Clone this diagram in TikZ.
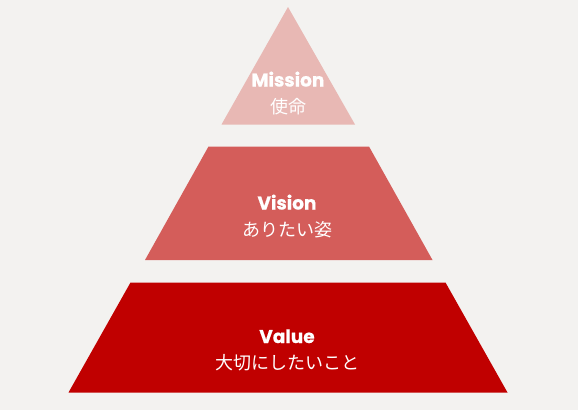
\documentclass[tikz,border=0pt]{standalone}
\usepackage{fontspec}
\newfontfamily\latinb[BoldFont={* Bold}, BoldFeatures={FakeBold=0.6}]{Poppins}
\newfontfamily\cjk{Noto Sans CJK JP}
\definecolor{bgc}{HTML}{F3F2F0}
\definecolor{c1}{HTML}{E8B8B4}
\definecolor{c2}{HTML}{D45D5A}
\definecolor{c3}{HTML}{C00000}
\tikzset{
  ttl/.style={text=white, font=\latinb\bfseries\fontsize{18.5}{20}\selectfont, inner sep=0pt, anchor=base},
  sub/.style={text=white, font=\cjk\fontsize{18}{20}\selectfont, inner sep=0pt, anchor=base},
}
\begin{document}
\begin{tikzpicture}[x=1pt,y=-1pt]
\fill[bgc] (0,0) rectangle (578,410);
\useasboundingbox (0,0) rectangle (578,410);
% shapes
\fill[c1] (288,7) -- (355,124.5) -- (221.5,124.5) -- cycle;
\fill[c2] (208.5,146.5) -- (369,146.5) -- (432.5,260) -- (145,260) -- cycle;
\fill[c3] (130.5,282.5) -- (445.5,282.5) -- (507.5,392.5) -- (68.5,392.5) -- cycle;
% texts
\node[ttl] (m1) at (288,86.5) {Mission};
\node[sub] (m2) at (288,113.5) {使命};
\node[ttl] (v1) at (287,209.5) {Vision};
\node[sub] (v2) at (287,236) {ありたい姿};
\node[ttl] (a1) at (287,343) {Value};
\node[sub] (a2) at (287,369.5) {大切にしたいこと};
\end{tikzpicture}
\end{document}
